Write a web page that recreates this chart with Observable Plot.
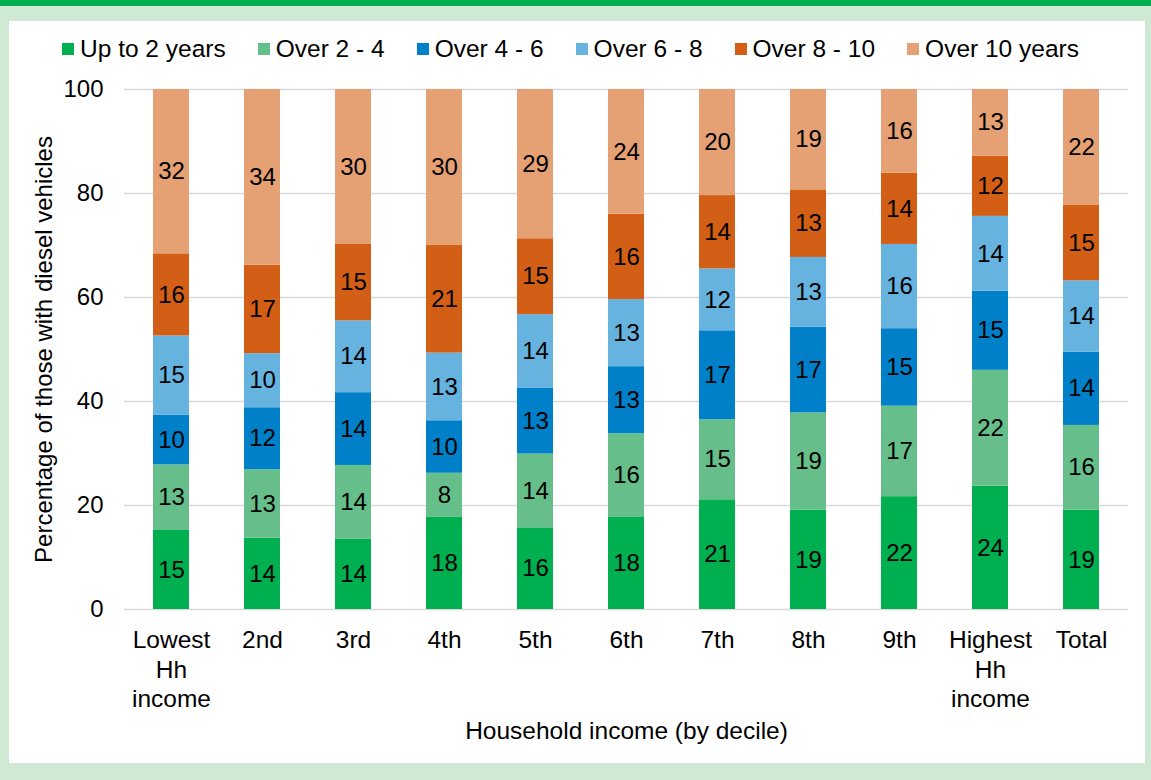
<!DOCTYPE html>
<html>
<head>
<meta charset="utf-8">
<script src="https://cdn.jsdelivr.net/npm/d3@7"></script>
<script src="https://cdn.jsdelivr.net/npm/@observablehq/plot@0.6"></script>
<style>
  html, body { margin: 0; padding: 0; }
  body { width: 1151px; height: 780px; background: #cfe9d5; position: relative; overflow: hidden;
         font-family: "Liberation Sans", Arial, sans-serif; }
  #topbar { position: absolute; left: 0; top: 0; width: 1151px; height: 6px; background: #00b050; }
  #panel { position: absolute; left: 9px; top: 21px; width: 1136px; height: 742px; background: #fff; }
  #legend { position: absolute; left: 53px; top: 14px; height: 28px; display: flex; align-items: center;
            font-size: 24.5px; color: #000; white-space: nowrap; }
  .item { display: flex; align-items: center; margin-right: 32px; }
  .sw { width: 12px; height: 12px; margin-right: 6px; }
  #chart { position: absolute; left: 0; top: 49px; }
</style>
</head>
<body>
<div id="topbar"></div>
<div id="panel">
  <div id="legend"></div>
  <div id="chart"></div>
</div>
<script>
const categories = ["Lowest", "2nd", "3rd", "4th", "5th", "6th", "7th", "8th", "9th", "Highest", "Total"];
const tickLabels = ["Lowest\nHh\nincome", "2nd", "3rd", "4th", "5th", "6th", "7th", "8th", "9th", "Highest\nHh\nincome", "Total"];
const seriesNames = ["Up to 2 years", "Over 2 - 4", "Over 4 - 6", "Over 6 - 8", "Over 8 - 10", "Over 10 years"];
const seriesColors = ["#00b050", "#66bf8a", "#0080c9", "#66b3e0", "#d35f17", "#e5a073"];

const upTo2   = [15.2, 13.7, 13.5, 17.8, 15.7, 17.7, 21.1, 19.1, 21.7, 23.7, 19.1];
const over2_4 = [12.6, 13.2, 14.2,  8.4, 14.2, 16.1, 15.4, 18.7, 17.4, 22.3, 16.3];
const over4_6 = [ 9.6, 11.9, 14.0, 10.1, 12.7, 12.9, 17.1, 16.5, 14.9, 15.2, 14.1];
const over6_8 = [15.2, 10.4, 13.8, 13.0, 14.1, 12.9, 11.9, 13.4, 16.2, 14.4, 13.7];
const over8_10= [15.8, 17.0, 14.7, 20.8, 14.6, 16.4, 14.1, 13.0, 13.7, 11.6, 14.6];
const over10  = [31.6, 33.8, 29.8, 29.9, 28.7, 24.0, 20.4, 19.3, 16.1, 12.8, 22.2];

const yTicks = [0, 20, 40, 60, 80, 100];
const xTitle = "Household income (by decile)";
const yTitle = "Percentage of those with diesel vehicles";

const seriesValues = [upTo2, over2_4, over4_6, over6_8, over8_10, over10];
const data = [];
seriesNames.forEach((s, si) => {
  categories.forEach((c, ci) => {
    data.push({cat: c, series: s, value: seriesValues[si][ci]});
  });
});

// legend
const legend = document.getElementById("legend");
seriesNames.forEach((s, i) => {
  const it = document.createElement("div");
  it.className = "item";
  const sw = document.createElement("div");
  sw.className = "sw";
  sw.style.background = seriesColors[i];
  const tx = document.createElement("span");
  tx.textContent = s;
  it.appendChild(sw); it.appendChild(tx);
  legend.appendChild(it);
});

const font = "'Liberation Sans', Arial, sans-serif";
const chart = Plot.plot({
  width: 1136,
  height: 693,
  marginLeft: 115,
  marginRight: 17,
  marginTop: 19,
  marginBottom: 154,
  style: {fontFamily: font, fontSize: "24px", color: "#000", background: "transparent", overflow: "visible"},
  x: {domain: categories, paddingInner: 0.6, paddingOuter: 0.3, label: null},
  y: {domain: [0, 100], label: null},
  color: {domain: seriesNames, range: seriesColors},
  marks: [
    Plot.gridY(yTicks, {stroke: "#d9d9d9", strokeOpacity: 1, strokeWidth: 1.5}),
    Plot.barY(data, {x: "cat", y: "value", fill: "series", order: seriesNames}),
    Plot.text(data, Plot.stackY({x: "cat", y: "value", z: "series", order: seriesNames,
      text: d => String(Math.round(d.value)), fill: "#000", fontSize: 24})),
    Plot.axisX({tickSize: 0, tickPadding: 18, lineHeight: 1.2,
      tickFormat: d => tickLabels[categories.indexOf(d)],
      label: xTitle, labelAnchor: "center", labelArrow: "none", labelOffset: 129, fontSize: 24.5}),
    Plot.axisY({ticks: yTicks, tickSize: 0, tickPadding: 21,
      label: yTitle, labelAnchor: "center", labelArrow: "none", labelOffset: 90, fontSize: 24})
  ]
});
document.getElementById("chart").appendChild(chart);
</script>
</body>
</html>
